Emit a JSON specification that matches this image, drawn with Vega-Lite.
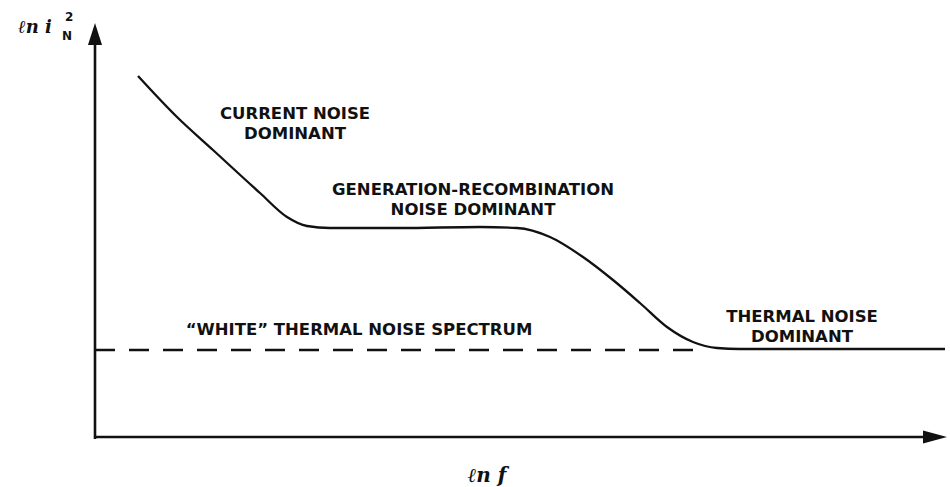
{
  "$schema": "https://vega.github.io/schema/vega-lite/v6.json",
  "width": 855,
  "height": 410,
  "autosize": {"type": "none"},
  "padding": {"left": 95, "top": 27, "right": 0, "bottom": 50},
  "background": "white",
  "config": {"view": {"stroke": null}},
  "datasets": {
    "curve": [
      {"lnf": 43, "lni": 361}, {"lnf": 82, "lni": 320}, {"lnf": 118, "lni": 287},
      {"lnf": 165, "lni": 244}, {"lnf": 192, "lni": 220}, {"lnf": 212, "lni": 211},
      {"lnf": 235, "lni": 209}, {"lnf": 305, "lni": 209}, {"lnf": 385, "lni": 210},
      {"lnf": 422, "lni": 209}, {"lnf": 455, "lni": 200}, {"lnf": 488, "lni": 180},
      {"lnf": 518, "lni": 157}, {"lnf": 545, "lni": 134}, {"lnf": 572, "lni": 110},
      {"lnf": 598, "lni": 95}, {"lnf": 622, "lni": 89}, {"lnf": 645, "lni": 88},
      {"lnf": 850, "lni": 88}
    ],
    "white": [{"x": 0, "x2": 610, "y": 87}],
    "axes": [
      {"x": 0, "y": -2, "x2": 0, "y2": 393},
      {"x": 0, "y": 0, "x2": 829, "y2": 0}
    ],
    "yarrow": [{"x": 0, "y": 403}],
    "xarrow": [{"x": 840, "y": 0}],
    "labels": [
      {"text": "CURRENT NOISE\nDOMINANT", "x": 200, "y": 318},
      {"text": "GENERATION-RECOMBINATION\nNOISE DOMINANT", "x": 378, "y": 242},
      {"text": "“WHITE” THERMAL NOISE SPECTRUM", "x": 264, "y": 102},
      {"text": "THERMAL NOISE\nDOMINANT", "x": 707, "y": 115}
    ],
    "xtitle": [{"text": "ℓn f", "x": 392, "y": -45}],
    "ytitle": [{"text": "ℓn i", "x": -77, "y": 404}],
    "ysup": [{"text": "2", "x": -30, "y": 416}],
    "ysub": [{"text": "N", "x": -33, "y": 397}]
  },
  "layer": [
    {
      "data": {"name": "axes"},
      "mark": {"type": "rule", "color": "#111", "strokeWidth": 2.6},
      "encoding": {
        "x": {"field": "x", "type": "quantitative", "scale": {"domain": [0, 855], "nice": false, "zero": false}, "axis": null},
        "y": {"field": "y", "type": "quantitative", "scale": {"domain": [0, 410], "nice": false, "zero": false}, "axis": null},
        "x2": {"field": "x2"},
        "y2": {"field": "y2"}
      }
    },
    {
      "data": {"name": "yarrow"},
      "mark": {"type": "point", "shape": "M0,-1L0.64,1L-0.64,1Z", "size": 484, "filled": true, "color": "#111", "opacity": 1, "strokeWidth": 0},
      "encoding": {
        "x": {"field": "x", "type": "quantitative"},
        "y": {"field": "y", "type": "quantitative"}
      }
    },
    {
      "data": {"name": "xarrow"},
      "mark": {"type": "point", "shape": "M1,0L-1,-0.55L-1,0.55Z", "size": 576, "filled": true, "color": "#111", "opacity": 1, "strokeWidth": 0},
      "encoding": {
        "x": {"field": "x", "type": "quantitative"},
        "y": {"field": "y", "type": "quantitative"}
      }
    },
    {
      "data": {"name": "white"},
      "mark": {"type": "rule", "color": "#111", "strokeWidth": 2.4, "strokeDash": [20, 14]},
      "encoding": {
        "x": {"field": "x", "type": "quantitative"},
        "x2": {"field": "x2"},
        "y": {"field": "y", "type": "quantitative"}
      }
    },
    {
      "data": {"name": "curve"},
      "mark": {"type": "line", "color": "#111", "strokeWidth": 2.3, "interpolate": "monotone"},
      "encoding": {
        "x": {"field": "lnf", "type": "quantitative"},
        "y": {"field": "lni", "type": "quantitative"}
      }
    },
    {
      "data": {"name": "labels"},
      "mark": {"type": "text", "font": "DejaVu Sans", "fontSize": 16.5, "fontWeight": "bold", "align": "center", "baseline": "alphabetic", "lineBreak": "\n", "lineHeight": 20, "color": "#111"},
      "encoding": {
        "x": {"field": "x", "type": "quantitative"},
        "y": {"field": "y", "type": "quantitative"},
        "text": {"field": "text"}
      }
    },
    {
      "data": {"name": "xtitle"},
      "mark": {"type": "text", "font": "DejaVu Serif", "fontSize": 20, "fontWeight": "bold", "fontStyle": "italic", "align": "center", "baseline": "alphabetic", "color": "#111"},
      "encoding": {
        "x": {"field": "x", "type": "quantitative"},
        "y": {"field": "y", "type": "quantitative"},
        "text": {"field": "text"}
      }
    },
    {
      "data": {"name": "ytitle"},
      "mark": {"type": "text", "font": "DejaVu Serif", "fontSize": 18, "fontWeight": "bold", "fontStyle": "italic", "align": "left", "baseline": "alphabetic", "color": "#111"},
      "encoding": {
        "x": {"field": "x", "type": "quantitative"},
        "y": {"field": "y", "type": "quantitative"},
        "text": {"field": "text"}
      }
    },
    {
      "data": {"name": "ysup"},
      "mark": {"type": "text", "font": "DejaVu Sans", "fontSize": 12, "fontWeight": "bold", "align": "left", "baseline": "alphabetic", "color": "#111"},
      "encoding": {
        "x": {"field": "x", "type": "quantitative"},
        "y": {"field": "y", "type": "quantitative"},
        "text": {"field": "text"}
      }
    },
    {
      "data": {"name": "ysub"},
      "mark": {"type": "text", "font": "DejaVu Sans", "fontSize": 12, "fontWeight": "bold", "align": "left", "baseline": "alphabetic", "color": "#111"},
      "encoding": {
        "x": {"field": "x", "type": "quantitative"},
        "y": {"field": "y", "type": "quantitative"},
        "text": {"field": "text"}
      }
    }
  ]
}
